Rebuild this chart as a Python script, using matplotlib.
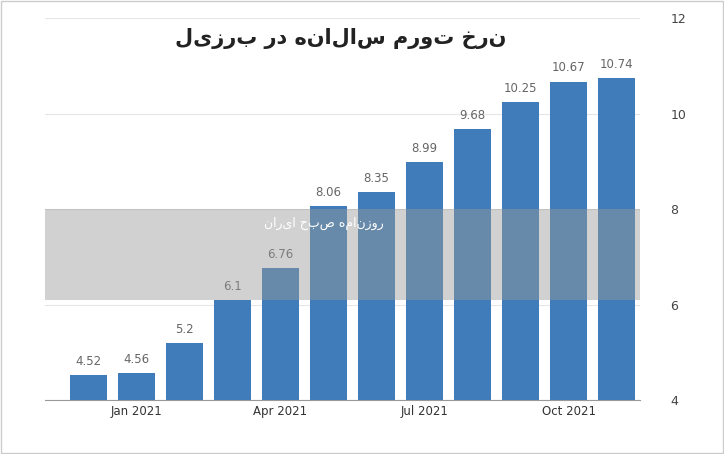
import matplotlib
matplotlib.use("Agg")
import matplotlib.pyplot as plt
from matplotlib.patches import Rectangle

values = [4.52, 4.56, 5.2, 6.1, 6.76, 8.06, 8.35, 8.99, 9.68, 10.25, 10.67, 10.74]
labels = ["4.52", "4.56", "5.2", "6.1", "6.76", "8.06", "8.35", "8.99", "9.68", "10.25", "10.67", "10.74"]
tick_pos = [1, 4, 7, 10]
tick_labels = ["Jan 2021", "Apr 2021", "Jul 2021", "Oct 2021"]
title = "نرخ تورم سالانه در برزیل"
band_text = "روزنامه صبح ایران"

fig = plt.figure(figsize=(7.24, 4.54), dpi=100)
ax = fig.add_axes([0.062, 0.119, 0.822, 0.841])
x = list(range(len(values)))
ax.bar(x, values, width=0.77, color="#3f7cb9", bottom=0, zorder=2)
ax.set_ylim(4, 12)
ax.set_xlim(-0.9, 11.48)
for xi, v, l in zip(x, values, labels):
    ax.text(xi, v + 0.15, l, ha="center", va="bottom", fontsize=8.5, color="#666666", zorder=3)
ax.yaxis.tick_right()
ax.set_yticks([4, 6, 8, 10, 12])
ax.tick_params(axis="y", length=0, labelsize=9, colors="#444444", pad=22)
ax.set_xticks(tick_pos)
ax.set_xticklabels(tick_labels, fontsize=8.5, color="#333333")
ax.tick_params(axis="x", length=0)
ax.grid(axis="y", color="#e6e6e6", lw=0.8, zorder=0)
for s in ["top", "left", "right"]:
    ax.spines[s].set_visible(False)
ax.spines["bottom"].set_color("#999999")
ax.add_patch(Rectangle((-0.9, 6.1), 12.38, 1.9, color="#999999", alpha=0.45, zorder=4, lw=0))
ax.text(4.9, 7.7, band_text[::-1], ha="center", va="center", fontsize=9, color="white",
        family="DejaVu Sans", zorder=5)
fig.text(0.47, 0.915, title[::-1], ha="center", va="center", fontsize=15, color="#222222",
         family="DejaVu Sans", fontweight="bold")
fig.patches.append(Rectangle((0.002, 0.002), 0.996, 0.996, transform=fig.transFigure,
                             fill=False, edgecolor="#cccccc", lw=1))
fig.savefig("out.png", dpi=100)
